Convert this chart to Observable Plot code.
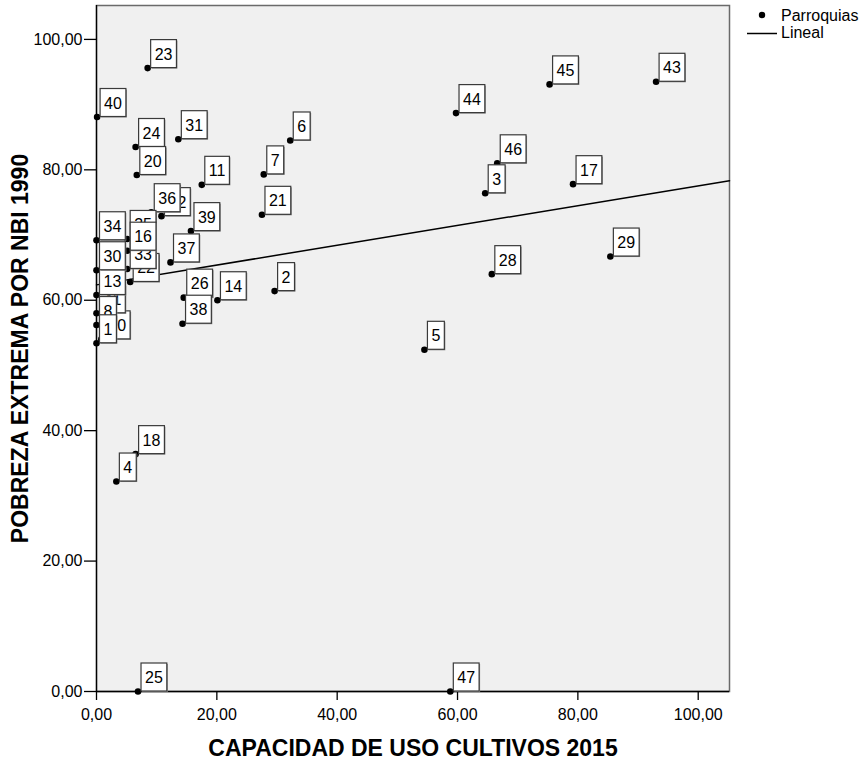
<!DOCTYPE html>
<html>
<head>
<meta charset="utf-8">
<script src="https://cdn.jsdelivr.net/npm/d3@7"></script>
<script src="https://cdn.jsdelivr.net/npm/@observablehq/plot@0.6"></script>
<style>
  body { margin: 0; background: #fff; }
  #chart svg { display: block; }
</style>
</head>
<body>
<div id="chart"></div>
<script>
// Case labels (parroquias), in drawing order
const caseLabels = [10, 41, 8, 1, 13, 30, 34, 22, 33, 32, 36, 35, 16, 37, 39, 26, 38, 14,
  40, 23, 24, 20, 31, 11, 7, 6, 21, 2, 5, 3, 46, 44, 45, 43, 17, 28, 29, 18, 4, 25, 47];
// CAPACIDAD DE USO CULTIVOS 2015
const cultivos = [0.8, 0.0, 0.0, 0.0, 0.0, 0.0, 0.0, 5.6, 5.1, 10.8, 9.1, 5.1, 5.1, 12.3, 15.7, 14.5, 14.3, 20.1,
  0.1, 8.5, 6.5, 6.7, 13.6, 17.5, 27.8, 32.2, 27.5, 29.6, 54.5, 64.6, 66.6, 59.75, 75.3, 93.0, 79.2, 65.7, 85.4, 6.5, 3.3, 6.9, 58.8];
// POBREZA EXTREMA POR NBI 1990
const pobreza = [54.0, 58.0, 56.2, 53.4, 60.8, 64.6, 69.2, 62.8, 64.8, 72.9, 73.5, 69.4, 67.6, 65.8, 70.6, 60.4, 56.4, 60.0,
  88.1, 95.6, 83.5, 79.2, 84.7, 77.7, 79.3, 84.5, 73.1, 61.4, 52.4, 76.4, 81.0, 88.7, 93.1, 93.5, 77.8, 64.0, 66.7, 36.4, 32.2, 0.0, 0.0];

const tickValues = [0, 20, 40, 60, 80, 100];
const xDomain = [0, 105.2];
const yDomain = [0, 105.2];
const xTitle = "CAPACIDAD DE USO CULTIVOS 2015";
const yTitle = "POBREZA EXTREMA POR NBI 1990";
const legendItems = ["Parroquias", "Lineal"];

const points = caseLabels.map((label, i) => ({label, x: cultivos[i], y: pobreza[i]}));

// Linear fit (least squares) computed from the data
const mx = d3.mean(cultivos), my = d3.mean(pobreza);
const sxy = d3.sum(cultivos, (x, i) => (x - mx) * (pobreza[i] - my));
const sxx = d3.sum(cultivos, x => (x - mx) ** 2);
const slope = sxy / sxx, intercept = my - slope * mx;
const fit = xDomain.map(x => ({x, y: intercept + slope * x}));

const fmt = d => d.toFixed(2).replace(".", ",");
const FONT = "'Liberation Sans', Arial, Helvetica, sans-serif";
const LABEL_DX = 7, LABEL_DY = -8.5;

const plot = Plot.plot({
  width: 862,
  height: 761,
  marginLeft: 96,
  marginRight: 133,
  marginTop: 5,
  marginBottom: 70,
  style: {fontFamily: FONT, background: "#ffffff", color: "#000"},
  x: {domain: xDomain},
  y: {domain: yDomain},
  marks: [
    Plot.frame({fill: "#f0f0f0", stroke: "#6a6a6a", strokeWidth: 1.5}),
    Plot.axisX({ticks: tickValues, tickFormat: fmt, tickSize: 9, tickPadding: 8, fontSize: 16, label: null, stroke: "#000", strokeWidth: 1.3}),
    Plot.axisY({ticks: tickValues, tickFormat: fmt, tickSize: 12, tickPadding: 2, fontSize: 16, label: null, stroke: "#000", strokeWidth: 1.3}),
    Plot.ruleX([0], {stroke: "#000", strokeWidth: 1.3}),
    Plot.ruleY([0], {stroke: "#000", strokeWidth: 1.3}),
    Plot.line(fit, {x: "x", y: "y", stroke: "#000", strokeWidth: 1.5}),
    Plot.dot(points, {x: "x", y: "y", r: 3.3, fill: "#000", stroke: null}),
    Plot.text(points, {x: "x", y: "y", text: d => String(d.label), textAnchor: "start", lineAnchor: "bottom",
      dx: LABEL_DX, dy: LABEL_DY, fontSize: 16, fill: "#000", ariaLabel: "case-labels"}),
    Plot.text([xTitle], {text: d => d, frameAnchor: "bottom", textAnchor: "middle", lineAnchor: "middle",
      dy: 57.5, fontSize: 23, fontWeight: "bold", fill: "#000"}),
    Plot.text([yTitle], {text: d => d, frameAnchor: "left", textAnchor: "middle", lineAnchor: "middle",
      dx: -76, rotate: -90, fontSize: 23, fontWeight: "bold", fill: "#000"})
  ]
});

document.getElementById("chart").append(plot);

// Boxes behind each case label (interleaved so later labels cover earlier ones).
// The label group is already translated by (dx, dy), so the box is placed in that local frame.
const svgNS = "http://www.w3.org/2000/svg";
const xs = plot.scale("x"), ys = plot.scale("y");
let labelGroup = plot.querySelector('g[aria-label="case-labels"]');
if (!labelGroup) {
  labelGroup = Array.from(plot.querySelectorAll("g")).find(g => g.querySelectorAll(":scope > text").length === points.length);
}
if (labelGroup) {
  const texts = Array.from(labelGroup.querySelectorAll(":scope > text"));
  texts.forEach((t, i) => {
    const p = points[i];
    const px = xs.apply(p.x), py = ys.apply(p.y);
    const w = t.getComputedTextLength();
    const left = px + 3 - LABEL_DX, bottom = py - 0.5 - LABEL_DY, h = 28;
    const shadow = document.createElementNS(svgNS, "rect");
    shadow.setAttribute("x", left + 1);
    shadow.setAttribute("y", bottom - h + 1);
    shadow.setAttribute("width", w + 8);
    shadow.setAttribute("height", h);
    shadow.setAttribute("fill", "#8a8a8a");
    const r = document.createElementNS(svgNS, "rect");
    r.setAttribute("x", left);
    r.setAttribute("y", bottom - h);
    r.setAttribute("width", w + 8);
    r.setAttribute("height", h);
    r.setAttribute("fill", "#ffffff");
    r.setAttribute("stroke", "#3a3a3a");
    r.setAttribute("stroke-width", 1.2);
    labelGroup.insertBefore(shadow, t);
    labelGroup.insertBefore(r, t);
  });
}

// Legend (top right, outside the frame)
const svg = d3.select(plot);
const lg = svg.append("g").attr("font-family", FONT).attr("font-size", 16).attr("fill", "#000").attr("text-anchor", "start");
lg.append("circle").attr("cx", 762).attr("cy", 15).attr("r", 3.2).attr("fill", "#000");
lg.append("text").attr("x", 781).attr("y", 21).attr("text-anchor", "start").text(legendItems[0]);
lg.append("line").attr("x1", 747).attr("x2", 777).attr("y1", 33.5).attr("y2", 33.5).attr("stroke", "#000").attr("stroke-width", 1.5);
lg.append("text").attr("x", 781).attr("y", 38).attr("text-anchor", "start").text(legendItems[1]);
</script>
</body>
</html>
